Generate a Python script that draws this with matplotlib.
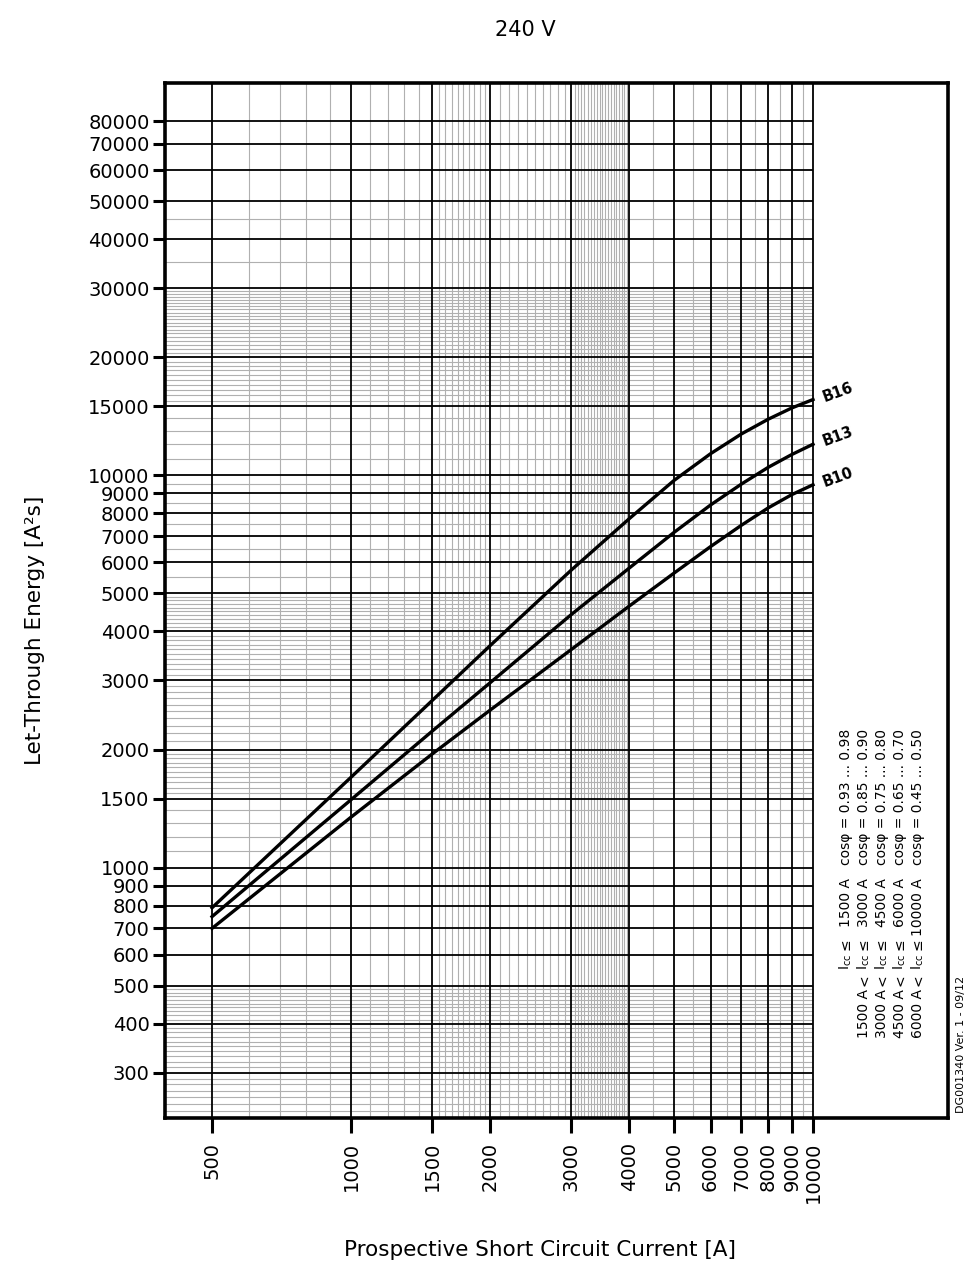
import numpy as np
import matplotlib.pyplot as plt
from matplotlib.ticker import NullLocator

# curves (prospective current [A] -> let-through energy [A²s])
current = [500, 1000, 1500, 2000, 3000, 4000, 5000, 6000, 7000, 8000, 9000, 10000]
b16 = [790, 1700, 2670, 3680, 5740, 7750, 9700, 11350, 12750, 13900, 14850, 15600]
b13 = [750, 1490, 2230, 2960, 4420, 5800, 7150, 8400, 9500, 10480, 11300, 12000]
b10 = [700, 1345, 1950, 2520, 3600, 4640, 5630, 6580, 7460, 8260, 8930, 9460]
curve_names = ['B16', 'B13', 'B10']

x_ticks = [500, 1000, 1500, 2000, 3000, 4000, 5000, 6000, 7000, 8000, 9000, 10000]
y_ticks = [300, 400, 500, 600, 700, 800, 900, 1000, 1500, 2000, 3000, 4000, 5000,
           6000, 7000, 8000, 9000, 10000, 15000, 20000, 30000, 40000, 50000,
           60000, 70000, 80000]

# fine paper grid
x_minor = (list(range(600, 1000, 100)) + list(range(1100, 1500, 100)) +
           list(range(1550, 2000, 50)) + list(range(2100, 3000, 100)) +
           list(range(3050, 4000, 50)) + [4500, 5500, 6500, 7500, 8500, 9500])
y_minor = (list(range(240, 300, 10)) + list(range(310, 400, 10)) +
           list(range(410, 500, 10)) + list(range(1100, 1500, 100)) +
           list(range(1550, 2000, 50)) + list(range(2100, 3000, 100)) +
           list(range(3100, 4000, 100)) + list(range(4100, 5000, 100)) +
           [5500, 6500, 7500, 8500, 9500] + list(range(11000, 15000, 1000)) +
           list(range(15500, 20000, 500)) + list(range(20500, 30000, 500)) +
           [35000, 45000])

cond_low = ['', '1500 A', '3000 A', '4500 A', '6000 A']
cond_high = ['1500 A', '3000 A', '4500 A', '6000 A', '10000 A']
cos_phi = ['0.93 ... 0.98', '0.85 ... 0.90', '0.75 ... 0.80', '0.65 ... 0.70', '0.45 ... 0.50']

W, H = 975, 1280
def fx(px):
    return px / W
def fy(py):
    return 1 - py / H

fig = plt.figure(figsize=(W / 100, H / 100), dpi=100)
ax = fig.add_axes([fx(165), fy(1118), fx(948) - fx(165), fy(83) - fy(1118)])
ax.set_xscale('log')
ax.set_yscale('log')
xmin, xmax = 395.5, 19600
ymin, ymax = 230, 100000
ax.set_xlim(xmin, xmax)
ax.set_ylim(ymin, ymax)

ax.vlines(x_minor, ymin, ymax, colors='#b0b0b0', lw=0.8, zorder=1)
ax.hlines(y_minor, xmin, 10000, colors='#b0b0b0', lw=0.8, zorder=1)
ax.vlines(x_ticks, ymin, ymax, colors='black', lw=1.3, zorder=2)
ax.hlines(y_ticks, xmin, 10000, colors='black', lw=1.3, zorder=2)

for name, vals in zip(curve_names, [b16, b13, b10]):
    ax.plot(current, vals, color='black', lw=2.4, zorder=3, solid_joinstyle='round')
    ax.annotate(name, (current[-1], vals[-1]), xytext=(18, 5.5), textcoords='offset points',
                ha='center', va='center', rotation=20, fontsize=10.5, fontweight='bold')

ax.set_xticks(x_ticks)
ax.set_xticklabels([str(v) for v in x_ticks], rotation=90, fontsize=14)
ax.set_yticks(y_ticks)
ax.set_yticklabels([str(v) for v in y_ticks], fontsize=14)
ax.xaxis.set_minor_locator(NullLocator())
ax.yaxis.set_minor_locator(NullLocator())
ax.tick_params(axis='y', direction='out', length=9, width=2.2, pad=2)
ax.tick_params(axis='x', direction='out', length=11, width=2.2, pad=6)
for s in ax.spines.values():
    s.set_linewidth(2.6)

fig.text(fx(525), fy(30), '240 V', ha='center', va='center', fontsize=15)
fig.text(fx(35), fy(630), 'Let-Through Energy [A²s]', ha='center', va='center',
         rotation=90, fontsize=15.5)
fig.text(fx(540), fy(1250), 'Prospective Short Circuit Current [A]', ha='center',
         va='center', fontsize=15.5)

# conditions table (rotated)
line_x = [846, 864, 882, 900, 918]
for i, lx in enumerate(line_x):
    if cond_low[i]:
        fig.text(fx(lx), fy(1038), cond_low[i], rotation=90, ha='center', va='bottom', fontsize=10)
        fig.text(fx(lx), fy(980), '<', rotation=90, ha='center', va='center', fontsize=10)
    fig.text(fx(lx), fy(970), r'I$_{\mathregular{cc}}$', rotation=90, ha='center', va='bottom', fontsize=10)
    fig.text(fx(lx), fy(944), '≤', rotation=90, ha='center', va='center', fontsize=10)
    fig.text(fx(lx), fy(878), cond_high[i], rotation=90, ha='center', va='top', fontsize=10)
    fig.text(fx(lx), fy(865), 'cosφ = ' + cos_phi[i], rotation=90, ha='center', va='bottom', fontsize=10)

fig.text(fx(961), fy(1113), 'DG001340 Ver. 1 - 09/12', rotation=90, ha='center',
         va='bottom', fontsize=8)

fig.savefig('out.png', dpi=100)
